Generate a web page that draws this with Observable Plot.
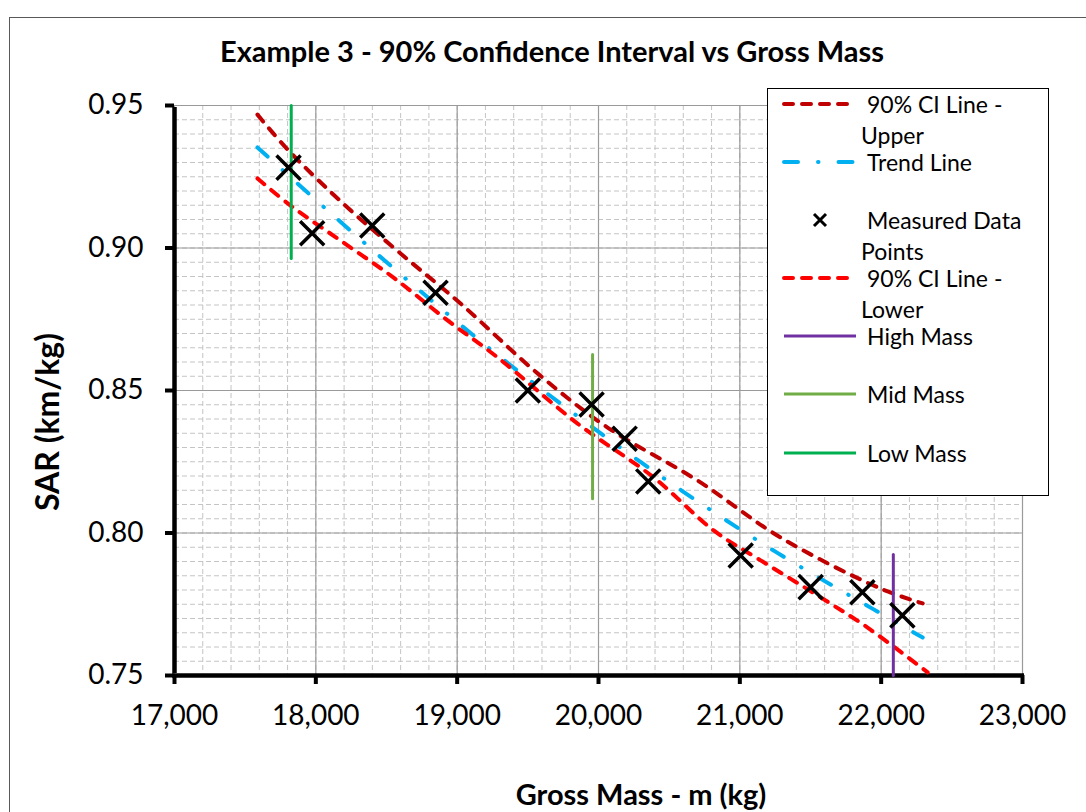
<!DOCTYPE html>
<html>
<head>
<meta charset="utf-8">
<script src="https://cdn.jsdelivr.net/npm/d3@7"></script>
<script src="https://cdn.jsdelivr.net/npm/@observablehq/plot@0.6"></script>
<style>
  html, body { margin: 0; padding: 0; background: #fff; overflow: hidden; }
  #wrap { position: relative; width: 1086px; height: 812px; overflow: hidden; font-family: Lato, "Open Sans", sans-serif; color: #000; }
  #frame { position: absolute; left: 9px; top: 17px; width: 1200px; height: 1000px; border: 1.5px solid #595959; }
  #chart { position: absolute; left: 0; top: 0; }
  .title { position: absolute; left: 552px; top: 50px; transform: translate(-50%, -50%); font-weight: bold; font-size: 29px; white-space: nowrap; line-height: 1; }
  .xtitle { position: absolute; left: 641px; top: 793px; transform: translate(-50%, -50%); font-weight: bold; font-size: 29px; white-space: nowrap; line-height: 1; }
  .ytitle { position: absolute; left: 47px; top: 422px; transform: translate(-50%, -50%) rotate(-90deg); font-weight: bold; font-size: 32px; white-space: nowrap; line-height: 1; }
  #legend { position: absolute; left: 767px; top: 88px; width: 282px; height: 408px; background: #fff; border: 1.5px solid #000; box-sizing: border-box; }
  .lt { position: absolute; font-size: 23px; white-space: nowrap; transform: translateY(-50%); line-height: 1; }
  .ls { position: absolute; left: 14px; transform: translateY(-50%); }
</style>
</head>
<body>
<div id="wrap">
  <div id="frame"></div>
  <div id="chart"></div>
  <div class="title">Example 3 - 90% Confidence Interval vs Gross Mass</div>
  <div class="ytitle">SAR (km/kg)</div>
  <div class="xtitle">Gross Mass - m (kg)</div>
  <div id="legend"></div>
</div>
<script>
// ---- data ----
const xTicks = [17000, 18000, 19000, 20000, 21000, 22000, 23000];
const yTicks = [0.75, 0.80, 0.85, 0.90, 0.95];

const measuredMass = [17807, 17974, 18399, 18847, 19500, 19951, 20185, 20352, 21006, 21501, 21867, 22150];
const measuredSar  = [0.9282, 0.9052, 0.9079, 0.8843, 0.8500, 0.8451, 0.8331, 0.8181, 0.7921, 0.7810, 0.7792, 0.7711];

const upperMass = [17587, 17807, 18224, 18599, 19024, 19569, 20064, 20701, 21289, 21996, 22294];
const upperSar  = [0.9468, 0.9342, 0.9142, 0.8981, 0.8805, 0.8560, 0.8370, 0.8184, 0.7984, 0.7805, 0.7753];

const trendMass = [17587, 18076, 18677, 19300, 19930, 20588, 21260, 21947, 22294];
const trendSar  = [0.9353, 0.9135, 0.8875, 0.8619, 0.8381, 0.8149, 0.7932, 0.7732, 0.7633];

const lowerMass = [17587, 17821, 18175, 18550, 18932, 19286, 19852, 20390, 20815, 21147, 21572, 21904, 22329];
const lowerSar  = [0.9244, 0.9149, 0.9026, 0.8896, 0.8746, 0.8616, 0.8384, 0.8195, 0.8009, 0.7904, 0.7774, 0.7668, 0.7511];

const highMassX = [22086]; const highMassSar = [0.75, 0.7925];
const midMassX  = [19958]; const midMassSar  = [0.8120, 0.8626];
const lowMassX  = [17826]; const lowMassSar  = [0.8963, 0.95];

// ---- chart ----
const minorX = d3.range(17000, 23001, 200);
const minorY = d3.range(0, 41).map(i => 0.75 + i * 0.005);

const chart = Plot.plot({
  width: 1086,
  height: 812,
  marginLeft: 174,
  marginRight: 64,
  marginTop: 105,
  marginBottom: 137,
  x: { domain: [17000, 23000] },
  y: { domain: [0.75, 0.95] },
  style: { fontFamily: "Lato, 'Open Sans', sans-serif", fontSize: "28px", color: "#000", background: "transparent", overflow: "visible" },
  marks: [
    Plot.gridX(minorX, { stroke: "#c4c4c4", strokeOpacity: 1, strokeDasharray: "5,3" }),
    Plot.gridY(minorY, { stroke: "#c4c4c4", strokeOpacity: 1, strokeDasharray: "5,3" }),
    Plot.gridX(xTicks, { stroke: "#9a9a9a", strokeOpacity: 1, strokeWidth: 1.2 }),
    Plot.gridY(yTicks, { stroke: "#9a9a9a", strokeOpacity: 1, strokeWidth: 1.2 }),
    Plot.axisX(xTicks, { tickSize: 9, strokeWidth: 4, tickPadding: 21, tickFormat: d3.format(","), label: null, fontSize: 28 }),
    Plot.axisY(yTicks, { tickSize: 9, strokeWidth: 4, tickPadding: 22, tickFormat: d3.format(".2f"), label: null, fontSize: 28 }),
    Plot.ruleX([17000], { stroke: "#000", strokeWidth: 4.5, y1: 0.75, y2: 0.95, insetTop: -2, insetBottom: -2 }),
    Plot.ruleY([0.75], { stroke: "#000", strokeWidth: 4.5, insetLeft: -2, insetRight: -2 }),
    Plot.line(upperMass, { x: d => d, y: upperSar, stroke: "#C00000", strokeWidth: 4, strokeDasharray: "9,9", strokeLinecap: "round", curve: "catmull-rom" }),
    Plot.line(trendMass, { x: d => d, y: trendSar, stroke: "#00B0F0", strokeWidth: 4, strokeDasharray: "14,20,0.5,20", strokeLinecap: "round", curve: "catmull-rom" }),
    Plot.line(lowerMass, { x: d => d, y: lowerSar, stroke: "#FF0000", strokeWidth: 4, strokeDasharray: "9,9", strokeLinecap: "round", curve: "catmull-rom" }),
    Plot.line(highMassSar, { x: () => highMassX[0], y: d => d, stroke: "#7030A0", strokeWidth: 3 }),
    Plot.line(midMassSar, { x: () => midMassX[0], y: d => d, stroke: "#70AD47", strokeWidth: 3 }),
    Plot.line(lowMassSar, { x: () => lowMassX[0], y: d => d, stroke: "#00B050", strokeWidth: 3 }),
    Plot.dot(measuredMass, { x: d => d, y: measuredSar, symbol: "times", r: 11, stroke: "#000", strokeWidth: 3.5 })
  ]
});
document.getElementById("chart").appendChild(chart);

// ---- legend ----
const legendItems = [
  { kind: "line", color: "#C00000", dash: "9,9", y: 15, lines: ["90% CI Line -", "Upper"] },
  { kind: "line", color: "#00B0F0", dash: "14,20,0.5,20", y: 73, lines: ["Trend Line"] },
  { kind: "x", y: 131, lines: ["Measured Data", "Points"] },
  { kind: "line", color: "#FF0000", dash: "9,9", y: 189, lines: ["90% CI Line -", "Lower"] },
  { kind: "line", color: "#7030A0", dash: null, y: 247, lines: ["High Mass"] },
  { kind: "line", color: "#70AD47", dash: null, y: 305, lines: ["Mid Mass"] },
  { kind: "line", color: "#00B050", dash: null, y: 364, lines: ["Low Mass"] }
];
const legend = document.getElementById("legend");
for (const it of legendItems) {
  const s = document.createElementNS("http://www.w3.org/2000/svg", "svg");
  s.setAttribute("width", 76); s.setAttribute("height", 16);
  s.setAttribute("class", "ls");
  s.style.top = it.y + "px";
  if (it.kind === "line") {
    const l = document.createElementNS("http://www.w3.org/2000/svg", "line");
    l.setAttribute("x1", 2); l.setAttribute("x2", 74); l.setAttribute("y1", 8); l.setAttribute("y2", 8);
    l.setAttribute("stroke", it.color);
    l.setAttribute("stroke-width", it.dash ? 4 : 3);
    if (it.dash) { l.setAttribute("stroke-dasharray", it.dash); l.setAttribute("stroke-linecap", "round"); }
    s.appendChild(l);
  } else {
    const p = document.createElementNS("http://www.w3.org/2000/svg", "path");
    p.setAttribute("d", "M32,2L44,14M44,2L32,14");
    p.setAttribute("stroke", "#000"); p.setAttribute("stroke-width", 3);
    s.appendChild(p);
  }
  legend.appendChild(s);
  it.lines.forEach((t, i) => {
    const d = document.createElement("div");
    d.className = "lt";
    d.textContent = t;
    d.style.left = (i === 0 ? 99 : 93) + "px";
    d.style.top = (it.y + i * 31) + "px";
    legend.appendChild(d);
  });
}
</script>
</body>
</html>
